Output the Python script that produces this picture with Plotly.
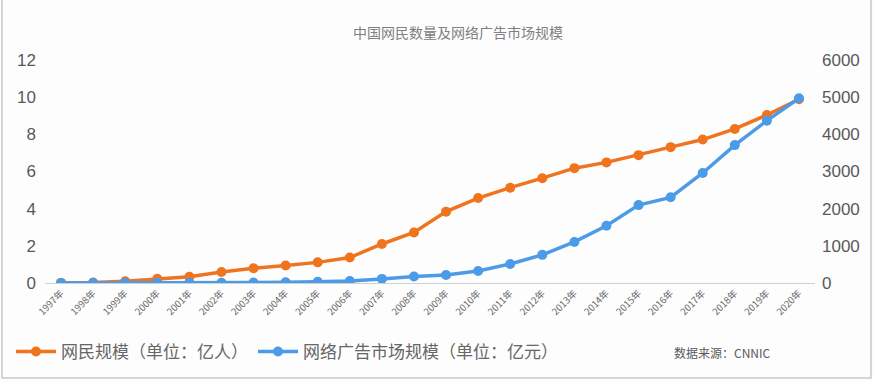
import plotly.graph_objects as go

years = [f"{y}年" for y in range(1997, 2021)]
netizens = [0.0062, 0.021, 0.089, 0.225, 0.337, 0.591, 0.795, 0.94, 1.11, 1.37, 2.10, 2.72,
            3.84, 4.57, 5.13, 5.64, 6.18, 6.49, 6.88, 7.31, 7.72, 8.29, 9.04, 9.89]
ad_market = [0.3, 1.0, 2.5, 3.5, 4.3, 4.9, 10.8, 19.0, 31.3, 52, 110, 175,
             215, 321, 512, 757, 1105, 1540, 2096, 2305, 2960, 3710, 4367, 4971]

orange = "#F0741E"
blue = "#4C9BE8"
gray = "#595959"

fig = go.Figure()
fig.add_trace(go.Scatter(x=years, y=netizens, name="网民规模（单位：亿人）", mode="lines+markers",
                         line=dict(color=orange, width=3.5), marker=dict(symbol="circle", size=10, color=orange),
                         yaxis="y"))
fig.add_trace(go.Scatter(x=years, y=ad_market, name="网络广告市场规模（单位：亿元）", mode="lines+markers",
                         line=dict(color=blue, width=3.5), marker=dict(symbol="circle", size=10, color=blue),
                         yaxis="y2"))

L, R, T, B = 45, 59, 60, 99
W, H = 874, 382
pw, ph = W - L - R, H - T - B

def px(x):
    return (x - L) / pw

def py(y):
    return (H - B - y) / ph

fig.update_layout(
    width=W, height=H,
    margin=dict(l=L, r=R, t=T, b=B, autoexpand=False),
    paper_bgcolor="#fdfdfd", plot_bgcolor="#fdfdfd",
    font=dict(family="Liberation Sans, Noto Sans CJK SC", color=gray),
    title=dict(text="中国网民数量及网络广告市场规模", x=458 / W, xanchor="center",
               y=1 - 33 / H, yanchor="middle",
               font=dict(size=14, color="#808080", family="Noto Sans CJK SC")),
    xaxis=dict(type="category", range=[-0.5, len(years) - 0.5], showgrid=False, showline=True,
               linecolor="#d0d0d0", linewidth=1,
               tickangle=-45, tickfont=dict(size=9.5, color="#666666", family="Noto Sans CJK SC"),
               ticks="", zeroline=False, automargin=False),
    yaxis=dict(range=[0, 12], dtick=2, showgrid=False, zeroline=False, showline=False,
               tickfont=dict(size=17, color=gray), ticks="", automargin=False, ticklabelstandoff=8),
    yaxis2=dict(range=[0, 6000], dtick=1000, overlaying="y", side="right", showgrid=False,
                zeroline=False, showline=False, tickfont=dict(size=17, color=gray), automargin=False,
                ticklabelstandoff=6),
    legend=dict(orientation="h", x=px(11), xanchor="left", y=py(352), yanchor="middle",
                font=dict(size=17, color="#666666", family="Noto Sans CJK SC"),
                bgcolor="rgba(0,0,0,0)", itemwidth=40),
    showlegend=True,
)

fig.add_annotation(text="数据来源：CNNIC", xref="paper", yref="paper", x=px(672), y=py(352),
                   xanchor="left", yanchor="middle", showarrow=False,
                   font=dict(size=12, color=gray, family="Noto Sans CJK SC"))

# frame
fig.add_shape(type="rect", xref="paper", yref="paper", x0=px(2), x1=px(871), y0=py(378), y1=py(-5),
              line=dict(color="#c8c8c8", width=1.5), fillcolor="rgba(0,0,0,0)", layer="below")

fig.write_html("out.html", config={"displayModeBar": False},
               post_script="document.body.style.margin='0';document.body.style.overflow='hidden';")
